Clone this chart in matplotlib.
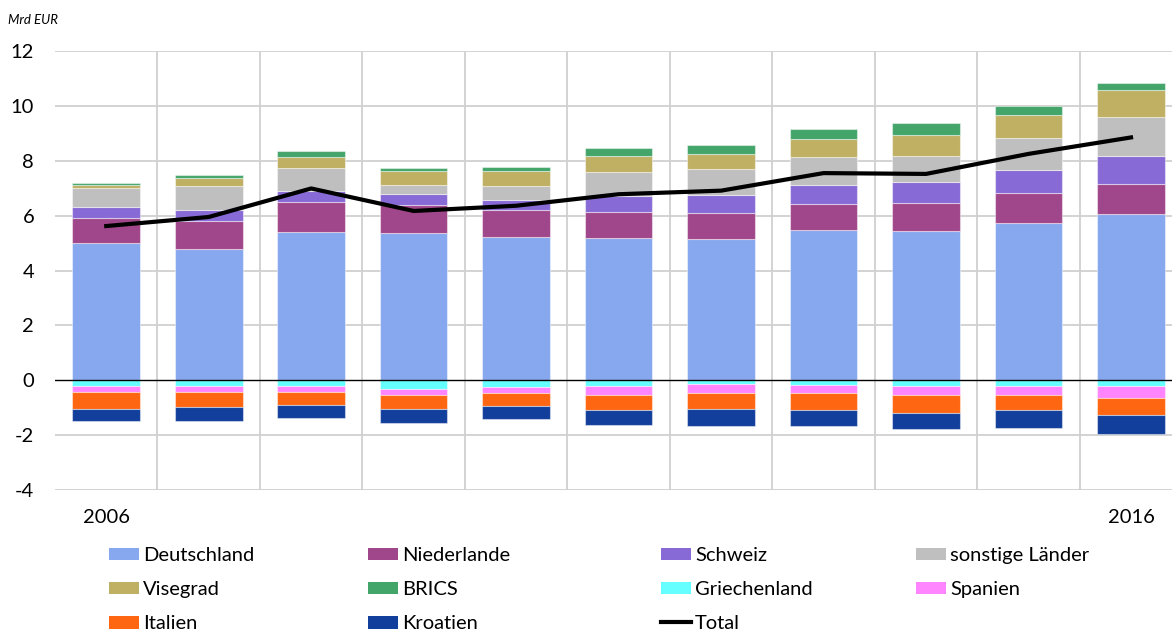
import matplotlib
matplotlib.use("Agg")
import matplotlib.pyplot as plt
from matplotlib.patches import Patch
from matplotlib.lines import Line2D
import numpy as np

plt.rcParams['font.family'] = ['Lato', 'DejaVu Sans']
plt.rcParams['axes.unicode_minus'] = False

years = np.arange(2006, 2017)

# positive contributions, Mrd EUR
deutschland = [5.00, 4.79, 5.42, 5.37, 5.23, 5.19, 5.15, 5.46, 5.45, 5.73, 6.05]
niederlande = [0.91, 1.03, 1.07, 1.03, 0.96, 0.96, 0.94, 0.98, 1.01, 1.08, 1.12]
schweiz = [0.39, 0.39, 0.41, 0.39, 0.39, 0.55, 0.67, 0.68, 0.75, 0.87, 1.01]
sonstige = [0.70, 0.88, 0.83, 0.31, 0.51, 0.90, 0.93, 1.01, 0.97, 1.14, 1.41]
visegrad = [0.12, 0.28, 0.41, 0.54, 0.54, 0.59, 0.54, 0.67, 0.76, 0.85, 0.98]
brics = [0.06, 0.12, 0.22, 0.09, 0.15, 0.26, 0.36, 0.36, 0.42, 0.33, 0.28]

# negative contributions
griechenland = [-0.21, -0.21, -0.21, -0.33, -0.26, -0.20, -0.15, -0.19, -0.20, -0.20, -0.20]
spanien = [-0.21, -0.21, -0.21, -0.19, -0.22, -0.32, -0.33, -0.29, -0.35, -0.35, -0.43]
italien = [-0.61, -0.56, -0.50, -0.51, -0.45, -0.58, -0.58, -0.62, -0.65, -0.55, -0.62]
kroatien = [-0.47, -0.52, -0.46, -0.52, -0.48, -0.53, -0.62, -0.55, -0.58, -0.64, -0.71]

total = [5.62, 5.95, 6.99, 6.17, 6.36, 6.78, 6.91, 7.55, 7.52, 8.25, 8.85]

pos_series = [
    ("Deutschland", deutschland, "#87a7ee"),
    ("Niederlande", niederlande, "#a0468a"),
    ("Schweiz", schweiz, "#886ad6"),
    ("sonstige Länder", sonstige, "#bfbfbf"),
    ("Visegrad", visegrad, "#bfb064"),
    ("BRICS", brics, "#43a56a"),
]
neg_series = [
    ("Griechenland", griechenland, "#66ffff"),
    ("Spanien", spanien, "#ff85ff"),
    ("Italien", italien, "#ff6611"),
    ("Kroatien", kroatien, "#123f9b"),
]

fig = plt.figure(figsize=(11.72, 6.30), dpi=100)
ax = fig.add_axes([55 / 1172, 140 / 630, 1117 / 1172, 439 / 630])

x = np.arange(len(years))
width = 0.66
edge = (1, 1, 1, 0.45)

bottom = np.zeros(len(years))
for name, vals, col in pos_series:
    ax.bar(x, vals, width, bottom=bottom, color=col, edgecolor=edge,
           linewidth=0.8, zorder=2)
    bottom += np.array(vals)

bottom = np.zeros(len(years))
for name, vals, col in neg_series:
    ax.bar(x, vals, width, bottom=bottom, color=col, edgecolor=edge,
           linewidth=0.8, zorder=2)
    bottom += np.array(vals)

ax.plot(x, total, color="black", lw=3.0, zorder=4)

# grid: horizontal at ticks, vertical between the categories
ax.set_ylim(-4, 12)
ax.set_xlim(-0.5, 10.4)
ax.set_yticks(np.arange(-4, 13, 2))
for yv in np.arange(-4, 13, 2):
    if yv != 0:
        ax.axhline(yv, color="#d0d0d0", lw=1.3, zorder=0)
ax.axhline(0, color="black", lw=1.0, zorder=3)
for xv in np.arange(0.5, 10.5, 1):
    ax.axvline(xv, color="#d0d0d0", lw=1.3, zorder=0)

for s in ax.spines.values():
    s.set_visible(False)
ax.tick_params(length=0, labelsize=14.5, pad=15)
ax.set_xticks([0, 10])
ax.set_xticklabels(["2006", "2016"])
ax.tick_params(axis="x", pad=14)

fig.text(8 / 1172, 1 - 20 / 630, "Mrd EUR", fontsize=9.5, style="italic",
         va="center", ha="left")

# legend, one block per column
fs = 14.5
columns = [
    (109, ["Deutschland", "Visegrad", "Italien"]),
    (368, ["Niederlande", "BRICS", "Kroatien"]),
    (661, ["Schweiz", "Griechenland", "Total"]),
    (916, ["sonstige Länder", "Spanien"]),
]
colors = {n: c for n, _, c in pos_series + neg_series}
for xpos, names in columns:
    handles = []
    for n in names:
        if n == "Total":
            handles.append(Line2D([], [], color="black", lw=3.0))
        else:
            handles.append(Patch(facecolor=colors[n], edgecolor="none"))
    fig.legend(handles, names, loc="upper left",
               bbox_to_anchor=(xpos / 1172, 1 - 547 / 630),
               frameon=False, fontsize=fs, borderpad=0, borderaxespad=0,
               handlelength=1.5, handleheight=0.6, handletextpad=0.2,
               labelspacing=0.85)

fig.savefig("out.png", dpi=100)
